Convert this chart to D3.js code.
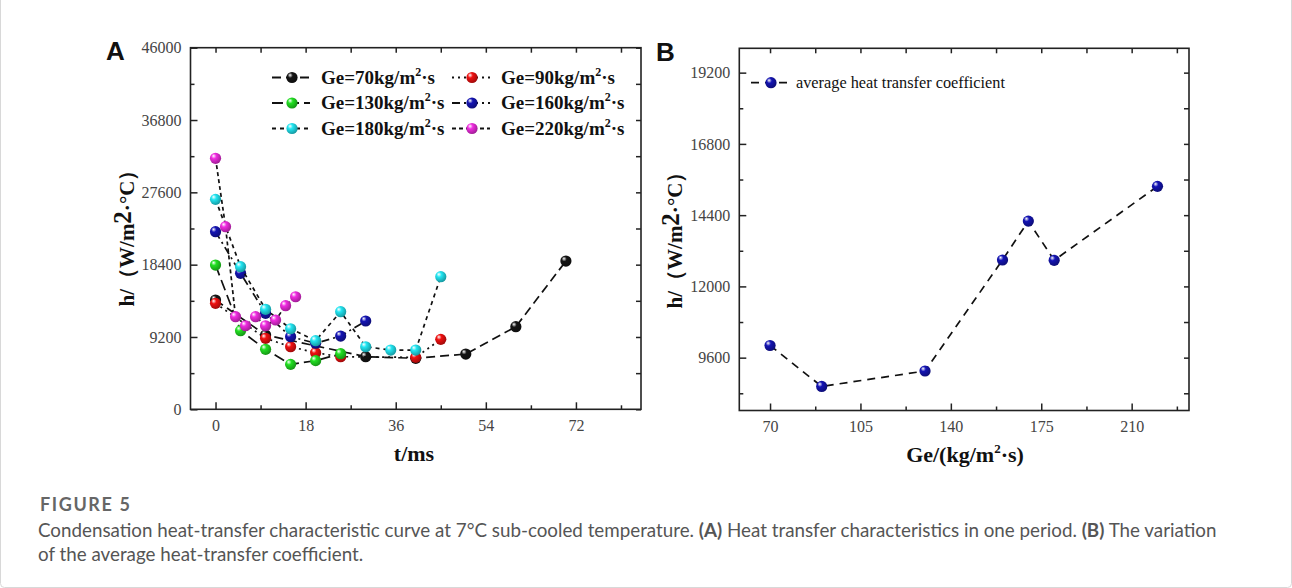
<!DOCTYPE html>
<html>
<head>
<meta charset="utf-8">
<script src="https://cdn.jsdelivr.net/npm/d3@7"></script>
<style>
    body { margin: 0; background: #fff; }
    text { font-family: "Liberation Serif", "Times New Roman", serif; }
</style>
</head>
<body>
<script>
// panel A: one series per mass flux, t in ms and h in W/m2.C
const t70 = [0, 10, 30, 40, 50, 60, 70];
const h70 = [13900, 9450, 6690, 6490, 7030, 10510, 18860];
const t90 = [0, 10, 15, 20, 25, 40, 45];
const h90 = [13480, 9030, 7960, 7200, 6690, 6610, 8900];
const t130 = [0, 5, 10, 15, 20, 25];
const h130 = [18350, 10000, 7630, 5720, 6190, 7070];
const t160 = [0, 5, 10, 15, 20, 25, 30];
const h160 = [22590, 17300, 12210, 9230, 8400, 9320, 11230];
const t180 = [0, 5, 10, 15, 20, 25, 30, 35, 40, 45];
const h180 = [26710, 18140, 12720, 10250, 8730, 12420, 7960, 7540, 7540, 16870];
const t220 = [0, 2, 4, 6, 8, 10, 12, 14, 16];
const h220 = [31930, 23230, 11780, 10630, 11780, 10630, 11360, 13180, 14320];
const seriesNames = ['70', '90', '130', '160', '180', '220'];

// panel B: average coefficient against Ge
const geValues = [70, 90, 130, 160, 170, 180, 220];
const avgH = [10010, 8630, 9150, 12890, 14200, 12880, 15370];

const tTicks = [0, 18, 36, 54, 72];
const tMinor = [9, 27, 45, 63, 81];
const hTicksA = [0, 9200, 18400, 27600, 36800, 46000];
const hMinorA = [4600, 13800, 23000, 32200, 41400];
const geTicks = [70, 105, 140, 175, 210];
const geMinor = [87.5, 122.5, 157.5, 192.5, 227.5];
const hTicksB = [9600, 12000, 14400, 16800, 19200];
const hMinorB = [8400, 10800, 13200, 15600, 18000];

const [svgW, svgH] = [1292, 588];
const FRAME_A = {x0: 190.5, x1: 641, y0: 47.7, y1: 409.3};
const FRAME_B = {x0: 739.3, x1: 1189, y0: 48.3, y1: 410.5};
const MARKER_R = 5.6;

const COLORS = {'70': '#151515', '90': '#f01010', '130': '#22e022', '160': '#1414b4',
    '180': '#22e6f2', '220': '#f02ce0', avg: '#1414b4'};
const DASHES = {'70': '9,5', '90': '2,4', '130': '11,5', '160': '8,4,2,4', '180': '4,4', '220': '4,3', avg: '8,6'};

const svg = d3.select('body').append('svg').attr('width', svgW).attr('height', svgH);

function initDefs() {
    let defs = svg.append('defs');
    Object.keys(COLORS).forEach(function (k) {
        let g = defs.append('radialGradient').attr('id', 'ball_' + k)
            .attr('cx', '40%').attr('cy', '38%').attr('r', '65%').attr('fx', '32%').attr('fy', '28%');
        g.append('stop').attr('offset', '0%').attr('stop-color', '#ffffff');
        g.append('stop').attr('offset', '35%').attr('stop-color', COLORS[k]);
        g.append('stop').attr('offset', '100%').attr('stop-color', d3.color(COLORS[k]).darker(1.2));
    });
}

function drawFrame(f, x, y, ticks) {
    let g = svg.append('g');
    let fmt = d3.format('d');
    let tickLabelStyle = function (sel) {
        sel.select('.domain').remove();
        sel.selectAll('line').attr('stroke', '#222').attr('stroke-width', 1.5);
        sel.selectAll('text').attr('font-size', 16).attr('fill', '#444')
            .style('font-family', '"Liberation Serif", serif');
    };
    let noLabel = function (sel) {
        sel.select('.domain').remove();
        sel.selectAll('text').remove();
        sel.selectAll('line').attr('stroke', '#222').attr('stroke-width', 1.5);
    };

    g.append('g').attr('transform', 'translate(0,' + f.y1 + ')')
        .call(d3.axisBottom(x).tickValues(ticks.x).tickFormat(fmt).tickSize(-7).tickPadding(10)).call(tickLabelStyle);
    g.append('g').attr('transform', 'translate(0,' + f.y1 + ')')
        .call(d3.axisBottom(x).tickValues(ticks.xm).tickSize(-4)).call(noLabel);
    g.append('g').attr('transform', 'translate(' + f.x0 + ',0)')
        .call(d3.axisLeft(y).tickValues(ticks.y).tickFormat(fmt).tickSize(-7).tickPadding(9)).call(tickLabelStyle);
    g.append('g').attr('transform', 'translate(' + f.x0 + ',0)')
        .call(d3.axisLeft(y).tickValues(ticks.ym).tickSize(-4)).call(noLabel);

    // mirrored ticks on top and right
    g.append('g').attr('transform', 'translate(0,' + f.y0 + ')')
        .call(d3.axisTop(x).tickValues(ticks.x.concat(ticks.xm)).tickSize(-5)).call(noLabel);
    g.append('g').attr('transform', 'translate(' + f.x1 + ',0)')
        .call(d3.axisRight(y).tickValues(ticks.y.concat(ticks.ym)).tickSize(-5)).call(noLabel);

    g.append('rect').attr('x', f.x0).attr('y', f.y0)
        .attr('width', f.x1 - f.x0).attr('height', f.y1 - f.y0)
        .attr('fill', 'none').attr('stroke', '#222').attr('stroke-width', 1.6);
}

function drawSeries(g, pts, key, x, y) {
    let line = d3.line().x(function (d) {
        return x(d[0]);
    }).y(function (d) {
        return y(d[1]);
    });
    g.append('path').attr('d', line(pts)).attr('fill', 'none')
        .attr('stroke', '#111').attr('stroke-width', 1.7).attr('stroke-dasharray', DASHES[key]);
    g.selectAll(null).data(pts).enter().append('circle')
        .attr('cx', function (d) {
            return x(d[0]);
        }).attr('cy', function (d) {
            return y(d[1]);
        }).attr('r', MARKER_R).attr('fill', 'url(#ball_' + key + ')');
}

function yTitle(cx, cy) {
    let t = svg.append('text').attr('transform', 'translate(' + cx + ',' + cy + ') rotate(-90)')
        .attr('text-anchor', 'middle').attr('font-weight', 'bold').attr('font-size', 21).attr('fill', '#111');
    t.append('tspan').text('h/（W/m');
    t.append('tspan').attr('font-size', 25).attr('dy', -3).text('2');
    t.append('tspan').attr('dy', 3).text('·°C）');
}

function legendItem(g, lx, ly, key, label, bold) {
    let mid = lx + 20;
    g.append('line').attr('x1', lx).attr('x2', lx + 38).attr('y1', ly).attr('y2', ly)
        .attr('stroke', '#111').attr('stroke-width', 1.8).attr('stroke-dasharray', DASHES[key]);
    g.append('circle').attr('cx', mid).attr('cy', ly).attr('r', MARKER_R).attr('fill', 'url(#ball_' + key + ')');
    let t = g.append('text').attr('x', lx + 49).attr('y', ly + 6).attr('fill', '#111');
    if (bold) {
        t.attr('font-weight', 'bold').attr('font-size', 19);
        t.append('tspan').text('Ge=' + label + 'kg/m');
        t.append('tspan').attr('font-size', 12).attr('dy', -8).text('2');
        t.append('tspan').attr('dy', 8).text('·s');
    } else {
        t.attr('font-size', 16.3).attr('x', lx + 45).attr('y', ly + 5).text(label);
    }
}

function renderPanelA() {
    let f = FRAME_A;
    let x = d3.scaleLinear().domain([-5, 85]).range([f.x0, f.x1]);
    let y = d3.scaleLinear().domain([0, 46000]).range([f.y1, f.y0]);
    drawFrame(f, x, y, {x: tTicks, xm: tMinor, y: hTicksA, ym: hMinorA});

    let g = svg.append('g');
    let allT = [t70, t90, t130, t160, t180, t220];
    let allH = [h70, h90, h130, h160, h180, h220];
    seriesNames.forEach(function (k, i) {
        drawSeries(g, d3.zip(allT[i], allH[i]), k, x, y);
    });

    let lg = svg.append('g');
    seriesNames.forEach(function (k, i) {
        let col = i % 2, row = Math.floor(i / 2);
        legendItem(lg, col ? 452 : 272, 77.5 + row * 25.5, k, k, true);
    });

    svg.append('text').attr('x', 414).attr('y', 461).attr('text-anchor', 'middle')
        .attr('font-weight', 'bold').attr('font-size', 22).attr('fill', '#111').text('t/ms');
    yTitle(134, 233);
    svg.append('text').attr('x', 106).attr('y', 59.5).attr('font-size', 26).attr('font-weight', 'bold')
        .style('font-family', '"Liberation Sans", Arial, sans-serif').attr('fill', '#111').text('A');
}

function renderPanelB() {
    let f = FRAME_B;
    let x = d3.scaleLinear().domain([58.1, 232.2]).range([f.x0, f.x1]);
    let y = d3.scaleLinear().domain([7820, 20020]).range([f.y1, f.y0]);
    drawFrame(f, x, y, {x: geTicks, xm: geMinor, y: hTicksB, ym: hMinorB});

    drawSeries(svg.append('g'), d3.zip(geValues, avgH), 'avg', x, y);
    legendItem(svg.append('g'), 751, 82.7, 'avg', 'average heat transfer coefficient', false);

    let t = svg.append('text').attr('x', 965).attr('y', 462).attr('text-anchor', 'middle')
        .attr('font-weight', 'bold').attr('font-size', 22).attr('fill', '#111');
    t.append('tspan').text('Ge/(kg/m');
    t.append('tspan').attr('font-size', 13).attr('dy', -9).text('2');
    t.append('tspan').attr('dy', 9).text('·s)');
    yTitle(682, 235);
    svg.append('text').attr('x', 656).attr('y', 60.5).attr('font-size', 26).attr('font-weight', 'bold')
        .style('font-family', '"Liberation Sans", Arial, sans-serif').attr('fill', '#111').text('B');
}

function renderCaption() {
    svg.append('rect').attr('x', 0.5).attr('y', -10).attr('width', svgW - 1).attr('height', svgH - 0.5 + 10)
        .attr('rx', 4).attr('fill', 'none').attr('stroke', '#d8d8d8');
    let cap = svg.append('g').attr('fill', '#555');
    cap.append('text').attr('x', 40).attr('y', 511).attr('font-size', 18).attr('font-weight', 'bold')
        .attr('letter-spacing', 1.6).attr('fill', '#666')
        .style('font-family', 'Lato, sans-serif').text('FIGURE 5');
    let l1 = cap.append('text').attr('x', 38).attr('y', 537).attr('font-size', 18.8).style('font-family', 'Lato, sans-serif');
    l1.append('tspan').text('Condensation heat-transfer characteristic curve at 7°C sub-cooled temperature. ');
    l1.append('tspan').attr('font-weight', 'bold').text('(A)');
    l1.append('tspan').text(' Heat transfer characteristics in one period. ');
    l1.append('tspan').attr('font-weight', 'bold').text('(B)');
    l1.append('tspan').text(' The variation');
    cap.append('text').attr('x', 38).attr('y', 561).attr('font-size', 18.8).style('font-family', 'Lato, sans-serif')
        .text('of the average heat-transfer coefficient.');
}

function main() {
    initDefs();
    renderPanelA();
    renderPanelB();
    renderCaption();
}

main();
</script>
</body>
</html>
